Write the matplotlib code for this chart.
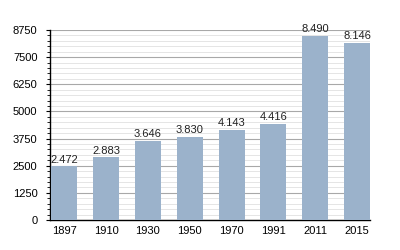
import matplotlib
matplotlib.use("Agg")
import matplotlib.pyplot as plt
from matplotlib.ticker import MultipleLocator

years = ["1897", "1910", "1930", "1950", "1970", "1991", "2011", "2015"]
population = [2472, 2883, 3646, 3830, 4143, 4416, 8490, 8146]
y_ticks = [0, 1250, 2500, 3750, 5000, 6250, 7500, 8750]

plt.rcParams["font.family"] = ["Liberation Sans", "DejaVu Sans"]

fig = plt.figure(figsize=(4, 2.5), dpi=100)
ax = fig.add_axes([0.125, 0.12, 0.8, 0.76])

x = list(range(len(years)))
bar_width = 0.62
ax.bar(x, population, width=bar_width, color="#9bb2cb", zorder=3)

for xi, val in zip(x, population):
    label = f"{val:,}".replace(",", ".")
    ax.text(xi, val + 80, label, ha="center", va="bottom", fontsize=8, color="#222222")

ax.set_xlim(-bar_width / 2 - 0.03, len(years) - 1 + bar_width / 2)
ax.set_ylim(0, 8750)
ax.set_yticks(y_ticks)
ax.set_yticklabels([str(t) for t in y_ticks])
ax.yaxis.set_minor_locator(MultipleLocator(250))
ax.set_xticks(x)
ax.set_xticklabels(years)

ax.grid(axis="y", which="major", color="#a8a8a8", linewidth=0.8, zorder=0)
ax.grid(axis="y", which="minor", color="#e0e0e0", linewidth=0.6, zorder=0)

for side in ["top", "right"]:
    ax.spines[side].set_visible(False)
ax.spines["left"].set_linewidth(1.0)
ax.spines["bottom"].set_linewidth(1.0)

ax.tick_params(axis="y", which="major", length=3, width=0.8, labelsize=8, pad=6)
ax.tick_params(axis="y", which="minor", length=2, width=0.6)
ax.tick_params(axis="x", length=0, labelsize=8, pad=4)

fig.savefig("out.png", dpi=100)
